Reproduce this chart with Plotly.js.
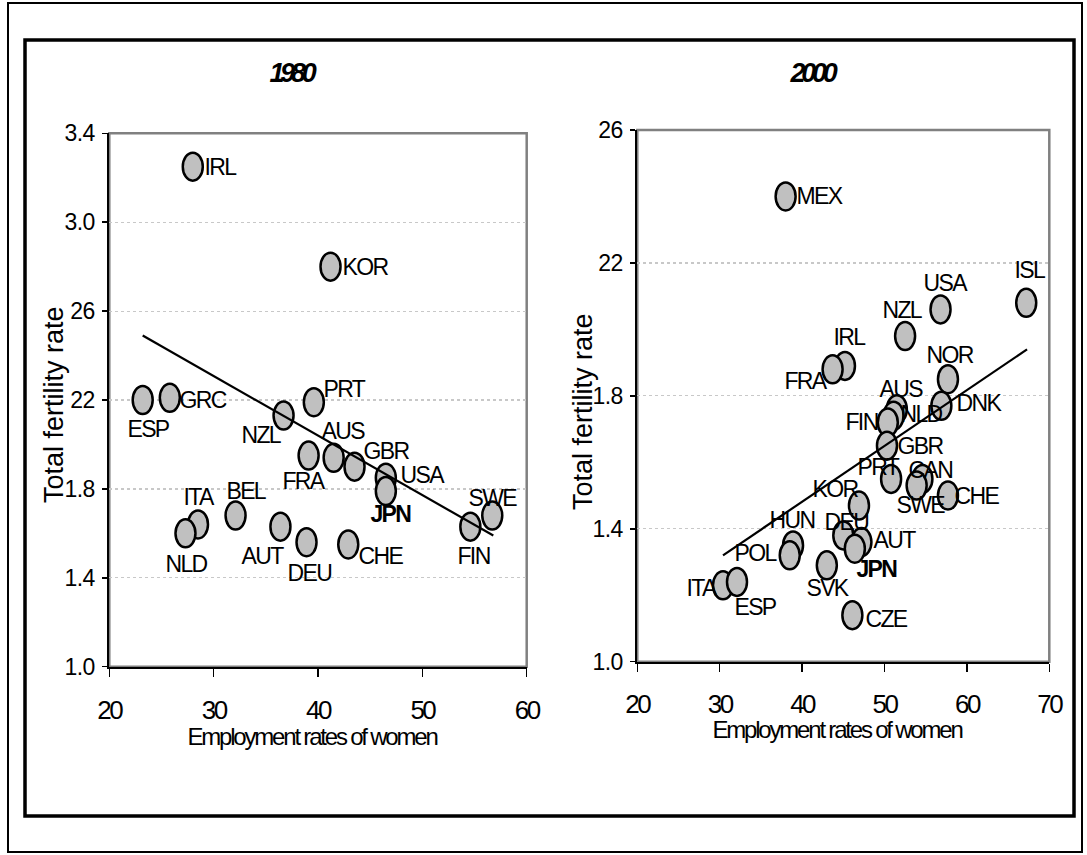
<!DOCTYPE html>
<html>
<head>
<meta charset="utf-8">
<script src="https://cdn.plot.ly/plotly-3.0.1.min.js"></script>
<style>
html,body{margin:0;padding:0;background:#fff;}
#chart{width:1087px;height:855px;}
#chart .annotation-text{letter-spacing:-1.6px;}
#chart g.annotation[data-index="0"] .annotation-text,
#chart g.annotation[data-index="1"] .annotation-text{letter-spacing:-4.2px;}
#chart g.annotation[data-index="2"] .annotation-text,
#chart g.annotation[data-index="3"] .annotation-text{letter-spacing:0px;}
#chart g.annotation[data-index="4"] .annotation-text,
#chart g.annotation[data-index="5"] .annotation-text{letter-spacing:-2.2px;}
#chart .xtick text,#chart .x2tick text{letter-spacing:-2.5px;}
#chart .ytick text,#chart .y2tick text{letter-spacing:-0.6px;}
</style>
</head>
<body>
<div id="chart"></div>
<script>
// ---------------- DATA ----------------
// 1980 panel
const countries1980 = ["IRL","KOR","ESP","GRC","NZL","PRT","FRA","AUS","GBR","USA","JPN","SWE","FIN","ITA","NLD","BEL","AUT","DEU","CHE"];
const emp1980 = [28.0, 41.2, 23.2, 25.8, 36.7, 39.6, 39.1, 41.5, 43.5, 46.5, 46.5, 56.7, 54.6, 28.5, 27.3, 32.1, 36.4, 38.9, 42.9];
const tfr1980 = [3.25, 2.80, 2.20, 2.21, 2.13, 2.19, 1.95, 1.94, 1.90, 1.85, 1.79, 1.68, 1.63, 1.64, 1.60, 1.68, 1.63, 1.56, 1.55];
const trend1980X = [23.2, 56.8];
const trend1980Y = [2.49, 1.59];

// 2000 panel
const countries2000 = ["MEX","ISL","USA","NZL","IRL","FRA","NOR","DNK","AUS","NLD","FIN","GBR","PRT","CAN","SWE","CHE","KOR","DEU","AUT","JPN","HUN","POL","SVK","ITA","ESP","CZE"];
const emp2000 = [38.0, 67.2, 56.8, 52.5, 45.2, 43.7, 57.7, 56.9, 51.5, 51.1, 50.4, 50.3, 50.8, 54.6, 53.9, 57.7, 46.9, 45.0, 47.2, 46.4, 38.9, 38.5, 43.0, 30.4, 32.1, 46.1];
const tfr2000 = [2.40, 2.08, 2.06, 1.98, 1.89, 1.88, 1.85, 1.77, 1.76, 1.74, 1.72, 1.65, 1.55, 1.55, 1.53, 1.50, 1.47, 1.38, 1.36, 1.34, 1.35, 1.32, 1.29, 1.23, 1.24, 1.14];
const trend2000X = [30.4, 67.3];
const trend2000Y = [1.32, 1.94];

const yTickVals1980 = [1.0, 1.4, 1.8, 2.2, 2.6, 3.0, 3.4];
const yTickText1980 = ["1.0", "1.4", "1.8", "22", "26", "3.0", "3.4"];
const yTickVals2000 = [1.0, 1.4, 1.8, 2.2, 2.6];
const yTickText2000 = ["1.0", "1.4", "1.8", "22", "26"];

const panelTitles = ["1980", "2000"];
const yTitleText = "Total fertility rate";
const xTitleText = "Employment rates of women";

// ---------------- LABEL OFFSETS (pixels: dx right, dy down) ----------------
const labelOffset1980 = {
  IRL:[27,0], KOR:[34,0], ESP:[5,29], GRC:[33,2], NZL:[-23,19], PRT:[30,-13], FRA:[-5,25],
  AUS:[9,-27], GBR:[31,-16], USA:[36,-3], JPN:[5,23], SWE:[0,-18], FIN:[3,29], ITA:[0,-27],
  NLD:[1,31], BEL:[10,-25], AUT:[-18,29], DEU:[3,31], CHE:[32,12]
};
const labelOffset2000 = {
  MEX:[33,0], ISL:[3,-33], USA:[4,-26], NZL:[-3,-26], IRL:[4,-29], FRA:[-27,12], NOR:[2,-24],
  DNK:[37,-3], AUS:[4,-20], NLD:[27,-2], FIN:[-26,0], GBR:[33,0], PRT:[-13,-12], CAN:[8,-9],
  SWE:[3,19], CHE:[29,0], KOR:[-24,-17], DEU:[3,-13], AUT:[33,-2], JPN:[22,20], HUN:[-1,-25],
  POL:[-35,-2], SVK:[1,23], ITA:[-22,3], ESP:[18,25], CZE:[34,4]
};

// ---------------- STYLE ----------------
const FONT = "Liberation Sans, Arial, sans-serif";
const W = 1087, H = 855;
const px = v => v / W;
const py = v => 1 - v / H;

function markerShapes(xs, ys, xr, yr) {
  return xs.map((x, i) => ({
    type: "circle", xref: xr, yref: yr, layer: "between",
    xsizemode: "pixel", ysizemode: "pixel",
    xanchor: x, yanchor: ys[i],
    x0: -10, x1: 10, y0: -14, y1: 14,
    fillcolor: "#C0C0C0", line: {color: "#000", width: 2.5}
  }));
}
function labelAnns(names, xs, ys, offs, xr, yr) {
  return names.map((n, i) => ({
    xref: xr, yref: yr, x: xs[i], y: ys[i], text: n === "JPN" ? "<b>" + n + "</b>" : n,
    showarrow: false, xanchor: "center", yanchor: "middle",
    xshift: offs[n][0], yshift: -offs[n][1],
    font: {family: FONT, size: 23, color: "#000"}
  }));
}
function paperText(text, x, y, size, opts) {
  return Object.assign({
    xref: "paper", yref: "paper", x: px(x), y: py(y), text: text,
    xanchor: "center", yanchor: "middle", showarrow: false,
    font: {family: FONT, size: size, color: "#000"}
  }, opts || {});
}

const traces = [
  {x: trend1980X, y: trend1980Y, xaxis: "x", yaxis: "y", mode: "lines",
   line: {color: "#000", width: 2.2}, hoverinfo: "skip", showlegend: false},
  {x: trend2000X, y: trend2000Y, xaxis: "x2", yaxis: "y2", mode: "lines",
   line: {color: "#000", width: 2.2}, hoverinfo: "skip", showlegend: false}
];

const axisCommon = {
  showline: true, linecolor: "#000", linewidth: 2, ticks: "outside", tickcolor: "#000",
  tickwidth: 1.5, zeroline: false, fixedrange: true
};

const frameShapes = [
  {type: "rect", xref: "paper", yref: "paper", x0: px(8), x1: px(1082), y0: py(3), y1: py(852),
   line: {color: "#000", width: 2}, layer: "below"},
  {type: "rect", xref: "paper", yref: "paper", x0: px(25), x1: px(1074), y0: py(40), y1: py(816),
   line: {color: "#000", width: 3.5}, layer: "below"},
  {type: "rect", xref: "x domain", yref: "y domain", x0: 0, x1: 1, y0: 0, y1: 1,
   line: {color: "#808080", width: 2.5}, layer: "below"},
  {type: "rect", xref: "x2 domain", yref: "y2 domain", x0: 0, x1: 1, y0: 0, y1: 1,
   line: {color: "#808080", width: 2.5}, layer: "below"}
];

const textAnns = [
  paperText("<b><i>" + panelTitles[0] + "</i></b>", 291, 73, 27),
  paperText("<b><i>" + panelTitles[1] + "</i></b>", 811, 73, 27),
  paperText(yTitleText, 54, 405, 27, {textangle: -90}),
  paperText(yTitleText, 583, 412, 27, {textangle: -90}),
  paperText(xTitleText, 312, 721, 24, {yanchor: "top"}),
  paperText(xTitleText, 837, 714, 24, {yanchor: "top"})
];

const layout = {
  width: W, height: H, margin: {l: 0, r: 0, t: 0, b: 0},
  paper_bgcolor: "#fff", plot_bgcolor: "#fff", showlegend: false,
  xaxis: Object.assign({}, axisCommon, {
    domain: [px(109.3), px(526.7)], range: [20, 60], dtick: 10, tick0: 20, anchor: "y",
    ticklen: 8, ticklabelstandoff: 11, showgrid: false,
    tickfont: {family: FONT, size: 26, color: "#000"}
  }),
  yaxis: Object.assign({}, axisCommon, {
    domain: [py(666.7), py(133.3)], range: [1.0, 3.4], anchor: "x",
    tickmode: "array", tickvals: yTickVals1980, ticktext: yTickText1980,
    ticklen: 5, ticklabelstandoff: 3, showgrid: true, gridcolor: "#C8C8C8", griddash: "dot", gridwidth: 1.2,
    tickfont: {family: FONT, size: 23, color: "#000"}
  }),
  xaxis2: Object.assign({}, axisCommon, {
    domain: [px(637.3), px(1049.3)], range: [20, 70], dtick: 10, tick0: 20, anchor: "y2",
    ticklen: 8, ticklabelstandoff: 10, showgrid: false,
    tickfont: {family: FONT, size: 26, color: "#000"}
  }),
  yaxis2: Object.assign({}, axisCommon, {
    domain: [py(661.7), py(130)], range: [1.0, 2.6], anchor: "x2",
    tickmode: "array", tickvals: yTickVals2000, ticktext: yTickText2000,
    ticklen: 5, ticklabelstandoff: 3, showgrid: true, gridcolor: "#C8C8C8", griddash: "dot", gridwidth: 1.2,
    tickfont: {family: FONT, size: 23, color: "#000"}
  }),
  shapes: frameShapes
    .concat(markerShapes(emp1980, tfr1980, "x", "y"))
    .concat(markerShapes(emp2000, tfr2000, "x2", "y2")),
  annotations: textAnns
    .concat(labelAnns(countries1980, emp1980, tfr1980, labelOffset1980, "x", "y"))
    .concat(labelAnns(countries2000, emp2000, tfr2000, labelOffset2000, "x2", "y2"))
};

Plotly.newPlot("chart", traces, layout, {displayModeBar: false, staticPlot: true});
</script>
</body>
</html>
